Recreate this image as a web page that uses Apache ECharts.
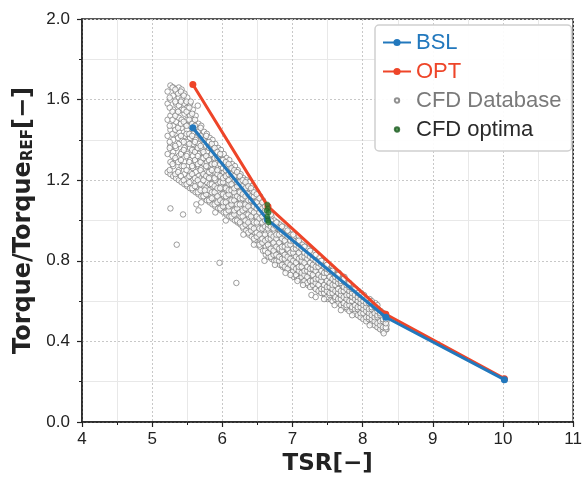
<!DOCTYPE html>
<html>
<head>
<meta charset="utf-8">
<script src="https://cdn.jsdelivr.net/npm/echarts@6/dist/echarts.min.js"></script>
<style>
  html, body { margin: 0; padding: 0; background: #fff; }
  #main { width: 585px; height: 481px; }
</style>
</head>
<body>
<div id="main"></div>
<script>
// design curves
var bslTsr = [5.58, 6.64, 8.33, 10.02];
var bslTorque = [1.46, 1.005, 0.52, 0.21];
var optTsr = [5.58, 6.65, 8.33, 10.02];
var optTorque = [1.675, 1.07, 0.535, 0.215];

// CFD optima (green dots)
var optimaPts = [[6.64, 1.08], [6.65, 1.06], [6.63, 1.05], [6.66, 1.04], [6.64, 1.02], [6.65, 1.0], [6.66, 0.99]];

var cfdColumnsA = [
    [5.22, [1.24, 1.33, 1.42, 1.5, 1.58, 1.64]],
    [5.26, [1.23, 1.29, 1.37, 1.45, 1.52, 1.6, 1.67]],
    [5.30, [1.22, 1.27, 1.34, 1.4, 1.47, 1.55, 1.62, 1.66]],
    [5.34, [1.21, 1.3, 1.36, 1.43, 1.49, 1.53, 1.58, 1.64]],
    [5.38, [1.2, 1.25, 1.32, 1.38, 1.44, 1.51, 1.57, 1.61, 1.66]],
    [5.42, [1.19, 1.27, 1.34, 1.4, 1.46, 1.5, 1.55, 1.6, 1.65]],
    [5.46, [1.18, 1.23, 1.29, 1.36, 1.42, 1.48, 1.53, 1.58, 1.63]],
    [5.50, [1.17, 1.21, 1.27, 1.33, 1.39, 1.45, 1.5, 1.56, 1.61]],
    [5.54, [1.16, 1.24, 1.3, 1.36, 1.41, 1.47, 1.52, 1.58]],
    [5.58, [1.15, 1.2, 1.26, 1.32, 1.38, 1.43, 1.49, 1.55]],
    [5.62, [1.14, 1.19, 1.24, 1.29, 1.35, 1.4, 1.46, 1.52]],
    [5.66, [1.13, 1.18, 1.22, 1.27, 1.33, 1.38, 1.43, 1.48]],
    [5.70, [1.12, 1.16, 1.21, 1.26, 1.31, 1.36, 1.41, 1.47]],
    [5.74, [1.12, 1.17, 1.22, 1.28, 1.33, 1.38, 1.44]],
    [5.78, [1.1, 1.14, 1.19, 1.24, 1.29, 1.34, 1.39, 1.43]],
    [5.82, [1.09, 1.13, 1.18, 1.23, 1.27, 1.32, 1.37, 1.41]],
    [5.86, [1.08, 1.12, 1.16, 1.21, 1.26, 1.3, 1.35, 1.4]],
    [5.90, [1.07, 1.11, 1.15, 1.2, 1.24, 1.29, 1.34, 1.38]],
    [5.94, [1.06, 1.1, 1.14, 1.18, 1.23, 1.27, 1.31, 1.36]],
    [5.98, [1.05, 1.09, 1.13, 1.17, 1.21, 1.26, 1.3, 1.35]],
    [6.02, [1.04, 1.08, 1.12, 1.16, 1.2, 1.24, 1.28, 1.33]],
    [6.06, [1.03, 1.07, 1.11, 1.15, 1.19, 1.23, 1.27, 1.31]],
    [6.10, [1.02, 1.06, 1.1, 1.14, 1.18, 1.22, 1.26, 1.3]],
    [6.14, [1.01, 1.05, 1.09, 1.13, 1.17, 1.21, 1.25, 1.28]],
    [6.18, [1.0, 1.04, 1.08, 1.12, 1.16, 1.2, 1.24, 1.27]],
    [6.22, [0.99, 1.03, 1.07, 1.11, 1.14, 1.18, 1.22, 1.25]],
    [6.26, [0.98, 1.02, 1.06, 1.1, 1.13, 1.17, 1.2, 1.23]],
    [6.30, [0.96, 1.0, 1.04, 1.08, 1.12, 1.15, 1.19, 1.21]],
    [6.34, [0.95, 0.99, 1.03, 1.07, 1.1, 1.14, 1.17, 1.2]],
    [6.38, [0.93, 0.97, 1.01, 1.05, 1.09, 1.12, 1.16, 1.19]],
    [6.42, [0.92, 0.96, 1.0, 1.04, 1.07, 1.11, 1.14, 1.17]],
    [6.46, [0.9, 0.94, 0.98, 1.02, 1.06, 1.09, 1.13, 1.15]],
    [6.50, [0.88, 0.92, 0.97, 1.01, 1.04, 1.08, 1.11, 1.14]],
    [6.54, [0.87, 0.91, 0.95, 0.99, 1.03, 1.06, 1.1, 1.12]],
    [6.58, [0.85, 0.89, 0.93, 0.97, 1.01, 1.05, 1.08, 1.1]],
    [6.62, [0.83, 0.87, 0.91, 0.95, 0.99, 1.03, 1.06]],
    [6.66, [0.82, 0.86, 0.9, 0.94, 0.97, 1.01]],
    [6.70, [0.81, 0.85, 0.88, 0.92, 0.96, 0.99, 1.02]],
    [6.74, [0.8, 0.84, 0.87, 0.91, 0.94, 0.98, 1.0]],
    [6.78, [0.79, 0.82, 0.86, 0.9, 0.93, 0.96, 0.99]],
    [6.82, [0.78, 0.81, 0.85, 0.88, 0.92, 0.95, 0.98]],
    [6.86, [0.77, 0.8, 0.84, 0.87, 0.9, 0.94, 0.97]],
    [6.90, [0.76, 0.79, 0.82, 0.86, 0.89, 0.92, 0.96]],
    [6.94, [0.75, 0.78, 0.81, 0.85, 0.88, 0.91, 0.94]],
    [6.98, [0.73, 0.77, 0.8, 0.83, 0.87, 0.9, 0.93]],
    [7.02, [0.72, 0.76, 0.79, 0.82, 0.85, 0.89, 0.92]],
    [7.06, [0.72, 0.75, 0.78, 0.81, 0.84, 0.87, 0.9]],
    [7.10, [0.71, 0.74, 0.77, 0.8, 0.83, 0.86, 0.89]],
    [7.14, [0.7, 0.73, 0.76, 0.79, 0.82, 0.85, 0.88]],
    [7.18, [0.69, 0.72, 0.75, 0.78, 0.81, 0.84, 0.87]],
    [7.22, [0.68, 0.71, 0.74, 0.77, 0.8, 0.83, 0.86]],
    [7.26, [0.68, 0.71, 0.73, 0.76, 0.79, 0.82, 0.85]],
    [7.30, [0.67, 0.7, 0.72, 0.75, 0.78, 0.81, 0.84]],
    [7.34, [0.66, 0.69, 0.72, 0.74, 0.77, 0.8, 0.83]],
    [7.38, [0.65, 0.68, 0.71, 0.74, 0.76, 0.79, 0.82]],
    [7.42, [0.64, 0.67, 0.7, 0.73, 0.75, 0.78, 0.8]],
    [7.46, [0.63, 0.66, 0.69, 0.72, 0.74, 0.77, 0.79]],
    [7.50, [0.61, 0.65, 0.68, 0.71, 0.73, 0.76, 0.78]],
    [7.54, [0.61, 0.64, 0.67, 0.7, 0.72, 0.75]],
    [7.58, [0.6, 0.63, 0.66, 0.69, 0.71, 0.74, 0.76]],
    [7.62, [0.6, 0.62, 0.65, 0.68, 0.7, 0.73]],
    [7.66, [0.59, 0.62, 0.64, 0.67, 0.69, 0.72, 0.74]],
    [7.70, [0.58, 0.61, 0.63, 0.66, 0.68, 0.71]],
    [7.74, [0.57, 0.6, 0.62, 0.65, 0.67, 0.7, 0.72]],
    [7.78, [0.56, 0.59, 0.62, 0.64, 0.66, 0.69]],
    [7.82, [0.56, 0.58, 0.61, 0.63, 0.66, 0.68]],
    [7.86, [0.55, 0.57, 0.6, 0.62, 0.65, 0.67]],
    [7.90, [0.54, 0.57, 0.59, 0.61, 0.64, 0.66]],
    [7.94, [0.53, 0.56, 0.58, 0.61, 0.63, 0.65]],
    [7.98, [0.52, 0.55, 0.57, 0.6, 0.62, 0.64]],
    [8.02, [0.52, 0.54, 0.56, 0.59, 0.61, 0.63]],
    [8.06, [0.51, 0.53, 0.56, 0.58, 0.6]],
    [8.10, [0.5, 0.52, 0.55, 0.57, 0.59, 0.61]],
    [8.14, [0.49, 0.52, 0.54, 0.56, 0.58]],
    [8.18, [0.48, 0.51, 0.53, 0.55, 0.57, 0.59]],
    [8.22, [0.47, 0.5, 0.52, 0.54, 0.56]],
    [8.26, [0.47, 0.49, 0.51, 0.53, 0.55]],
    [8.30, [0.46, 0.48, 0.5, 0.52, 0.54]],
    [8.34, [0.46, 0.48, 0.5, 0.52]]
];
var cfdColumnsB = [
    [5.25, [1.25, 1.36, 1.39, 1.47, 1.56, 1.61]],
    [5.29, [1.28, 1.32, 1.43, 1.5, 1.54, 1.66]],
    [5.33, [1.23, 1.31, 1.37, 1.45, 1.52, 1.59, 1.65]],
    [5.37, [1.24, 1.29, 1.41, 1.46, 1.54, 1.63]],
    [5.41, [1.22, 1.3, 1.33, 1.42, 1.48, 1.59, 1.64]],
    [5.45, [1.2, 1.27, 1.35, 1.39, 1.49, 1.55, 1.62]],
    [5.49, [1.18, 1.25, 1.32, 1.43, 1.47, 1.54, 1.59]],
    [5.53, [1.19, 1.22, 1.29, 1.38, 1.43, 1.5, 1.56]],
    [5.57, [1.16, 1.23, 1.27, 1.35, 1.42, 1.48, 1.53]],
    [5.61, [1.17, 1.21, 1.3, 1.34, 1.39, 1.47, 1.5]],
    [5.65, [1.14, 1.2, 1.28, 1.32, 1.36, 1.44]],
    [5.69, [1.15, 1.18, 1.25, 1.29, 1.37, 1.42, 1.46]],
    [5.73, [1.12, 1.2, 1.23, 1.31, 1.34, 1.4]],
    [5.77, [1.13, 1.16, 1.22, 1.27, 1.32, 1.37, 1.42]],
    [5.81, [1.1, 1.15, 1.21, 1.24, 1.3, 1.36, 1.39]],
    [5.85, [1.11, 1.14, 1.18, 1.25, 1.28, 1.33, 1.38]],
    [5.89, [1.08, 1.14, 1.17, 1.21, 1.28, 1.31, 1.36]],
    [5.93, [1.09, 1.12, 1.16, 1.23, 1.25, 1.31, 1.34]],
    [5.97, [1.06, 1.1, 1.16, 1.19, 1.22, 1.28, 1.33]],
    [6.01, [1.07, 1.09, 1.13, 1.19, 1.21, 1.26, 1.3]],
    [6.05, [1.04, 1.09, 1.12, 1.16, 1.22, 1.25, 1.29]],
    [6.09, [1.05, 1.07, 1.13, 1.15, 1.2, 1.23, 1.28]],
    [6.13, [1.02, 1.08, 1.1, 1.15, 1.18, 1.23, 1.26]],
    [6.17, [1.03, 1.05, 1.1, 1.14, 1.16, 1.22, 1.25]],
    [6.21, [1.0, 1.06, 1.08, 1.12, 1.17, 1.19, 1.24]],
    [6.25, [0.99, 1.04, 1.08, 1.11, 1.14, 1.19, 1.22]],
    [6.29, [0.97, 1.02, 1.05, 1.11, 1.13, 1.17, 1.2]],
    [6.33, [0.98, 1.0, 1.06, 1.08, 1.12, 1.16, 1.19]],
    [6.37, [0.94, 0.99, 1.03, 1.07, 1.1, 1.13, 1.17]],
    [6.41, [0.95, 0.97, 1.02, 1.05, 1.1, 1.12, 1.16]],
    [6.45, [0.91, 0.96, 0.99, 1.04, 1.07, 1.12, 1.14]],
    [6.49, [0.92, 0.94, 0.99, 1.02, 1.06, 1.09, 1.13]],
    [6.53, [0.88, 0.93, 0.96, 1.01, 1.04, 1.07, 1.11]],
    [6.57, [0.89, 0.91, 0.96, 0.99, 1.02, 1.06, 1.09]],
    [6.61, [0.85, 0.9, 0.93, 0.97, 1.0, 1.05, 1.07]],
    [6.65, [0.84, 0.88, 0.91, 0.96, 0.98, 1.03]],
    [6.69, [0.82, 0.86, 0.91, 0.93, 0.97, 1.0, 1.03]],
    [6.73, [0.83, 0.85, 0.89, 0.92, 0.96, 0.98]],
    [6.77, [0.8, 0.83, 0.87, 0.91, 0.93, 0.97, 0.99]],
    [6.81, [0.8, 0.82, 0.86, 0.89, 0.93, 0.96]],
    [6.85, [0.78, 0.81, 0.85, 0.87, 0.91, 0.94, 0.97]],
    [6.89, [0.77, 0.81, 0.83, 0.87, 0.9, 0.93]],
    [6.93, [0.76, 0.79, 0.82, 0.86, 0.88, 0.92, 0.95]],
    [6.97, [0.74, 0.78, 0.81, 0.84, 0.88, 0.9]],
    [7.01, [0.75, 0.77, 0.8, 0.84, 0.86, 0.9, 0.93]],
    [7.05, [0.73, 0.76, 0.79, 0.82, 0.86, 0.88]],
    [7.09, [0.71, 0.75, 0.77, 0.81, 0.84, 0.87, 0.9]],
    [7.13, [0.72, 0.74, 0.77, 0.8, 0.82, 0.86]],
    [7.17, [0.7, 0.73, 0.75, 0.79, 0.82, 0.84, 0.87]],
    [7.21, [0.69, 0.72, 0.75, 0.77, 0.81, 0.83]],
    [7.25, [0.67, 0.7, 0.74, 0.76, 0.79, 0.82, 0.85]],
    [7.29, [0.68, 0.7, 0.73, 0.76, 0.78, 0.81]],
    [7.33, [0.66, 0.69, 0.71, 0.75, 0.77, 0.8, 0.83]],
    [7.37, [0.65, 0.68, 0.71, 0.73, 0.77, 0.79]],
    [7.41, [0.64, 0.66, 0.7, 0.72, 0.75, 0.78, 0.8]],
    [7.45, [0.64, 0.66, 0.68, 0.72, 0.74, 0.77]],
    [7.49, [0.62, 0.65, 0.67, 0.7, 0.74, 0.76, 0.78]],
    [7.53, [0.63, 0.64, 0.67, 0.69, 0.72, 0.75]],
    [7.57, [0.6, 0.64, 0.66, 0.68, 0.71, 0.74, 0.75]],
    [7.61, [0.61, 0.62, 0.65, 0.68, 0.7, 0.72]],
    [7.65, [0.59, 0.61, 0.64, 0.66, 0.69, 0.71, 0.73]],
    [7.69, [0.58, 0.61, 0.63, 0.65, 0.69, 0.7]],
    [7.73, [0.57, 0.59, 0.62, 0.65, 0.67, 0.7, 0.71]],
    [7.77, [0.57, 0.58, 0.61, 0.63, 0.66, 0.68]],
    [7.81, [0.55, 0.58, 0.6, 0.63, 0.65, 0.67, 0.69]],
    [7.85, [0.56, 0.57, 0.6, 0.62, 0.64, 0.66]],
    [7.89, [0.54, 0.56, 0.58, 0.61, 0.63, 0.66]],
    [7.93, [0.53, 0.56, 0.57, 0.6, 0.62, 0.64]],
    [7.97, [0.52, 0.54, 0.57, 0.59, 0.61, 0.63]],
    [8.01, [0.51, 0.54, 0.56, 0.58, 0.6, 0.62]],
    [8.05, [0.5, 0.52, 0.55, 0.57, 0.59, 0.61]],
    [8.09, [0.51, 0.52, 0.54, 0.56, 0.59]],
    [8.13, [0.49, 0.51, 0.53, 0.56, 0.57, 0.6]],
    [8.17, [0.48, 0.5, 0.52, 0.54, 0.57]],
    [8.21, [0.47, 0.49, 0.52, 0.53, 0.55, 0.58]],
    [8.25, [0.46, 0.48, 0.5, 0.53, 0.54]],
    [8.29, [0.45, 0.47, 0.5, 0.51, 0.54]],
    [8.33, [0.46, 0.47, 0.49, 0.51, 0.53]]
];
var cfdOutliers = [
    [5.26, 1.06], [5.44, 1.03], [5.35, 0.88], [5.96, 0.79], [6.2, 0.69],
    [5.63, 1.08], [5.66, 1.05], [5.65, 1.57], [5.55, 1.59], [5.75, 1.15],
    [6.6, 0.8], [6.97, 0.73], [7.07, 0.7], [7.27, 0.63], [7.33, 0.62], [7.69, 0.555],
    [6.3, 0.93], [6.45, 0.88], [6.75, 0.78], [6.9, 0.74], [7.15, 0.68], [7.45, 0.61],
    [7.6, 0.58], [7.85, 0.53], [8.1, 0.48], [8.3, 0.44], [6.05, 1.0], [5.9, 1.04], [5.7, 1.09]
];

var xTicks = [4, 11, 1];
var yTicks = [0, 2.0, 0.4];

var cfdData = [];
cfdColumnsA.concat(cfdColumnsB).forEach(function (col) {
    col[1].forEach(function (v) { cfdData.push([col[0], v]); });
});
cfdData = cfdData.concat(cfdOutliers);

function zip(a, b) {
    return a.map(function (v, i) { return [v, b[i]]; });
}

var BLUE = '#2278bd';
var RED = '#ee4529';
var GREEN = '#2e7d32';
var TXT = '#222';

// small legend dot inside a wide box (moveTo points stretch the bbox)
var dotIcon = 'path://M0,0M28,0M28,9M0,9M11.8,4.5a2.2,2.2 0 1,0 4.4,0a2.2,2.2 0 1,0 -4.4,0z';

var chart = echarts.init(document.getElementById('main'), null, {renderer: 'canvas'});

var option = {
    animation: false,
    grid: {
        left: 82, right: 8, top: 19, bottom: 59,
        show: true, borderColor: TXT, borderWidth: 1.5,
        backgroundColor: 'transparent'
    },
    legend: {
        orient: 'vertical',
        left: 375, top: 25,
        padding: [6, 10, 10, 7],
        itemGap: 6,
        itemWidth: 28, itemHeight: 9,
        backgroundColor: 'rgba(255,255,255,0.92)',
        borderColor: '#d0d0d0', borderWidth: 1.5, borderRadius: 4,
        textStyle: {fontFamily: 'Liberation Sans', fontSize: 22, lineHeight: 23},
        data: [
            {name: 'BSL', textStyle: {color: BLUE}},
            {name: 'OPT', textStyle: {color: RED}},
            {name: 'CFD Database', icon: dotIcon, textStyle: {color: '#7a7a7a'}},
            {name: 'CFD optima', icon: dotIcon, textStyle: {color: '#2a2a2a'}}
        ]
    },
    xAxis: {
        type: 'value',
        min: xTicks[0], max: xTicks[1], interval: xTicks[2],
        name: 'TSR[\u2212]',
        nameLocation: 'middle', nameGap: 31,
        nameTextStyle: {fontFamily: 'DejaVu Sans', fontWeight: 'bold', fontSize: 23, color: TXT},
        axisLine: {lineStyle: {color: TXT, width: 1.5}},
        axisTick: {show: true, inside: false, length: 5, lineStyle: {color: TXT, width: 1.2}},
        minorTick: {show: true, splitNumber: 2, length: 3, lineStyle: {color: TXT, width: 1}},
        axisLabel: {fontFamily: 'Liberation Sans', fontSize: 17, color: TXT, margin: 9},
        splitLine: {show: true, lineStyle: {color: '#c8c8c8', type: [2, 2], width: 1}},
        minorSplitLine: {show: true, lineStyle: {color: '#e8e8e8', width: 1}}
    },
    yAxis: {
        type: 'value',
        min: yTicks[0], max: yTicks[1], interval: yTicks[2],
        name: '{a|Torque/Torque}{b|REF}{a|[\u2212]}',
        nameLocation: 'middle', nameGap: 46, nameRotate: 90,
        nameTextStyle: {
            rich: {
                a: {fontFamily: 'DejaVu Sans', fontWeight: 'bold', fontSize: 24, color: TXT},
                b: {fontFamily: 'DejaVu Sans', fontWeight: 'bold', fontSize: 15, color: TXT, verticalAlign: 'bottom', padding: [9, 0, 0, 0]}
            }
        },
        axisLine: {show: true, lineStyle: {color: TXT, width: 1.5}},
        axisTick: {show: true, inside: false, length: 5, lineStyle: {color: TXT, width: 1.2}},
        minorTick: {show: true, splitNumber: 2, length: 3, lineStyle: {color: TXT, width: 1}},
        axisLabel: {
            fontFamily: 'Liberation Sans', fontSize: 17, color: TXT, margin: 12,
            formatter: function (v) { return v.toFixed(1); }
        },
        splitLine: {show: true, lineStyle: {color: '#c8c8c8', type: [2, 2], width: 1}},
        minorSplitLine: {show: true, lineStyle: {color: '#e8e8e8', width: 1}}
    },
    series: [
        {
            name: 'CFD Database',
            type: 'scatter',
            symbol: 'circle',
            symbolSize: 5.5,
            itemStyle: {color: '#ffffff', borderColor: '#767676', borderWidth: 0.9},
            data: cfdData,
            z: 1
        },
        {
            name: 'BSL',
            type: 'line',
            symbol: 'circle', symbolSize: 7,
            showAllSymbol: true,
            lineStyle: {color: BLUE, width: 3},
            itemStyle: {color: BLUE, borderWidth: 0},
            data: zip(bslTsr, bslTorque),
            z: 3
        },
        {
            name: 'OPT',
            type: 'line',
            symbol: 'circle', symbolSize: 7,
            showAllSymbol: true,
            lineStyle: {color: RED, width: 3},
            itemStyle: {color: RED, borderWidth: 0},
            data: zip(optTsr, optTorque),
            z: 2
        },
        {
            name: 'CFD optima',
            type: 'scatter',
            symbol: 'circle', symbolSize: 5,
            itemStyle: {color: GREEN, borderColor: '#1d5c20', borderWidth: 0.6},
            data: optimaPts,
            z: 4
        }
    ]
};

chart.setOption(option);
</script>
</body>
</html>
